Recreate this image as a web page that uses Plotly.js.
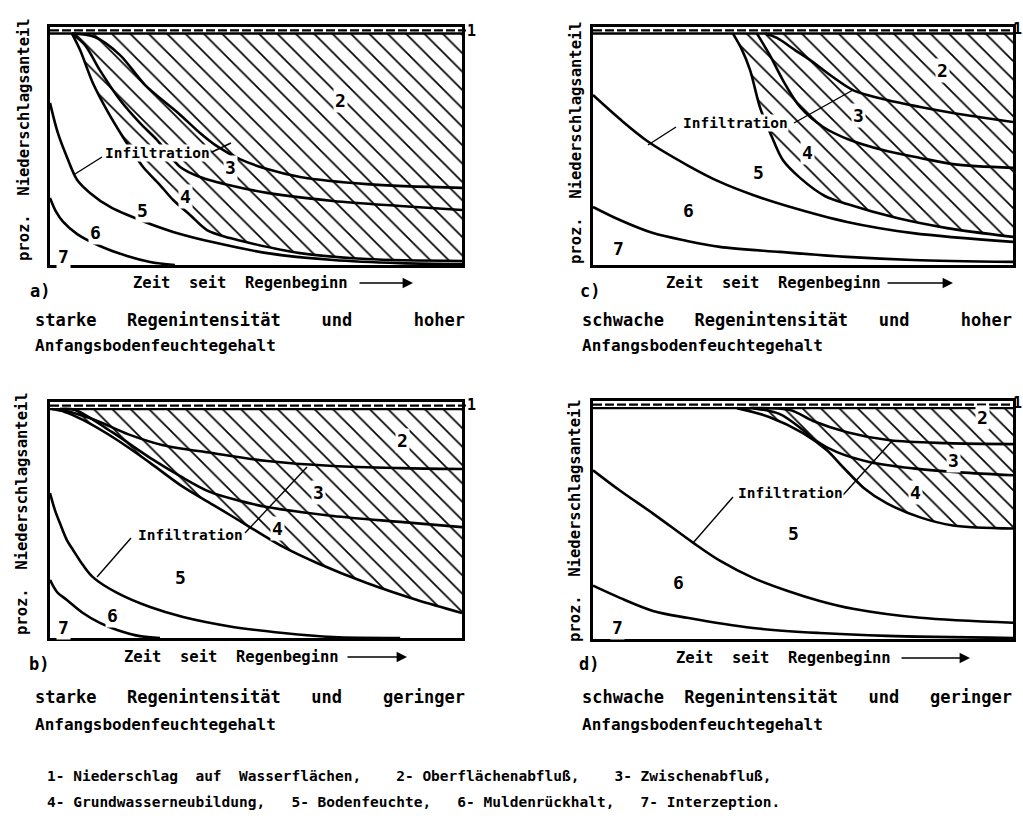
<!DOCTYPE html>
<html>
<head>
<meta charset="utf-8">
<script src="https://cdn.plot.ly/plotly-3.0.1.min.js"></script>
<style>
html,body{margin:0;padding:0;background:#fff;}
#chart{width:1023px;height:826px;}
</style>
</head>
<body>
<div id="chart"></div>
<script>
// ---------------- DATA (x: % of time axis, y: % of precipitation) ----------------
// Panel a) starke Regenintensität, hoher Anfangsbodenfeuchtegehalt
const a_top = 97.3, a_dash = 98.6;
const a76x = [0, 1.5, 3.2, 6.6, 12.1, 18.7, 24.3, 30.3];
const a76y = [28.2, 22.3, 18.1, 13.0, 8.0, 3.8, 1.3, 0];
const a65x = [0, 1.9, 4.1, 6.6, 9.7, 14.6, 21.8, 29.9, 40.5, 52.7, 68.7, 85.0, 100];
const a65y = [68.1, 55.5, 45.4, 35.7, 30.3, 24.4, 18.9, 13.9, 9.2, 5.0, 2.1, 0.8, 0.4];
const a54x = [5.3, 7.3, 10.4, 13.8, 17.7, 20.1, 22.6, 26.7, 29.9, 34.0, 38.1, 43.7, 48.5, 60.7, 76.9, 100];
const a54y = [97.3, 90.3, 76.5, 65.1, 53.8, 47.5, 41.2, 33.6, 27.3, 21.0, 14.7, 11.3, 9.2, 5.0, 2.5, 1.7];
const a43x = [5.3, 8.5, 12.1, 17.0, 21.8, 26.0, 31.6, 36.4, 44.4, 52.7, 68.7, 85.0, 100];
const a43y = [97.3, 92.4, 81.9, 69.3, 59.7, 52.5, 41.2, 37.0, 33.2, 30.3, 26.9, 24.8, 23.1];
const a32x = [5.3, 10.9, 17.0, 23.1, 31.1, 36.4, 40.8, 46.1, 52.7, 60.7, 76.9, 100];
const a32y = [97.3, 95.8, 88.2, 75.6, 63.9, 55.5, 49.6, 44.5, 40.3, 37.0, 34.0, 32.4];

// Panel c) schwache Regenintensität, hoher Anfangsbodenfeuchtegehalt
const c_top = 97.3, c_dash = 98.6;
const c76x = [0, 6.4, 14.3, 22.4, 30.2, 44.5, 60.5, 76.2, 100];
const c76y = [24.4, 18.9, 13.4, 10.1, 7.6, 5.5, 3.4, 2.1, 1.3];
const c65x = [0, 6.4, 12.9, 22.4, 30.2, 38.1, 46.2, 60.5, 76.2, 100];
const c65y = [71.4, 61.3, 52.1, 42.0, 34.9, 29.4, 24.8, 18.1, 13.4, 9.7];
const c54x = [33.3, 35.5, 37.4, 39.8, 42.6, 45.2, 49.3, 55.2, 60.5, 72.4, 84.3, 100];
const c54y = [97.3, 90.3, 81.9, 66.0, 53.8, 44.1, 36.6, 29.0, 25.6, 19.7, 15.5, 11.8];
const c43x = [39.0, 42.1, 45.2, 49.3, 54.8, 61.2, 69.0, 77.9, 85.7, 100];
const c43y = [97.3, 88.2, 77.7, 66.4, 58.0, 52.5, 48.3, 45.0, 42.4, 40.8];
const c32x = [41.0, 43.8, 48.1, 51.7, 57.1, 61.9, 70.0, 77.9, 85.7, 100];
const c32y = [97.3, 95.4, 90.3, 86.1, 79.0, 73.5, 69.3, 66.4, 63.9, 60.1];

// Panel b) starke Regenintensität, geringer Anfangsbodenfeuchtegehalt
const b_top = 97.0, b_dash = 98.5;
const b76x = [0, 1.7, 4.1, 8.0, 12.1, 16.3, 21.8, 26.7];
const b76y = [24.6, 19.5, 16.1, 10.6, 6.4, 3.4, 0.8, 0];
const b65x = [0, 1.2, 2.4, 4.1, 5.6, 8.0, 10.4, 16.3, 24.3, 32.3, 44.4, 56.6, 68.7, 85];
const b65y = [61.4, 54.2, 48.7, 41.5, 37.3, 30.9, 25.8, 19.1, 13.1, 8.9, 4.7, 2.1, 0.4, 0];
const b54x = [0.5, 3.6, 8.0, 16.3, 24.3, 32.3, 40.5, 48.5, 56.6, 64.8, 76.9, 89.1, 100];
const b54y = [97.0, 95.8, 92.4, 83.9, 74.2, 64.0, 55.5, 47.0, 38.6, 31.8, 23.3, 16.1, 10.6];
const b43x = [2.4, 6.1, 15.0, 24.3, 31.6, 38.8, 46.1, 52.7, 68.7, 85.0, 100];
const b43y = [97.0, 96.6, 87.3, 76.3, 68.6, 61.9, 58.1, 55.5, 51.7, 49.2, 47.0];
const b32x = [2.4, 10.9, 18.9, 27.2, 39.3, 52.7, 68.7, 85.0, 100];
const b32y = [97.0, 92.4, 86.4, 81.8, 78.4, 75.0, 72.9, 72.0, 71.6];

// Panel d) schwache Regenintensität, geringer Anfangsbodenfeuchtegehalt
const d_top = 97.0, d_dash = 98.5;
const d76x = [0, 6.4, 14.3, 22.4, 38.1, 54.0, 70.0, 100];
const d76y = [22.4, 17.3, 11.8, 8.9, 4.6, 2.5, 1.3, 0.4];
const d65x = [0, 6.4, 14.3, 23.8, 30.2, 38.1, 46.2, 54.0, 61.9, 77.9, 100];
const d65y = [70.9, 62.4, 52.7, 40.5, 32.9, 25.7, 20.3, 16.0, 12.7, 8.9, 6.8];
const d54x = [34.3, 42.1, 50.0, 55.7, 59.5, 64.3, 70.0, 77.9, 85.7, 100];
const d54y = [97.0, 93.2, 86.5, 79.3, 72.2, 63.7, 57.0, 51.1, 47.7, 46.4];
const d43x = [38.1, 44.5, 50.0, 52.9, 58.1, 66.0, 76.2, 87.4, 100];
const d43y = [97.0, 94.5, 87.8, 83.5, 78.5, 74.3, 71.7, 70.0, 68.8];
const d32x = [37.4, 46.9, 52.4, 60.5, 70.7, 84.3, 100];
const d32y = [97.0, 96.2, 91.6, 86.9, 83.5, 82.3, 81.9];

// ---------------- TEXT ----------------
const NB = '\u00A0';
function sp(n){ return NB.repeat(n); }
const regionLabels = ['1', '2', '3', '4', '5', '6', '7'];
const infiltrationLabel = 'Infiltration';
const yTitle = 'proz.' + sp(2) + 'Niederschlagsanteil';
const xTitle = 'Zeit' + sp(2) + 'seit' + sp(2) + 'Regenbeginn';
const panelLetters = ['a)', 'b)', 'c)', 'd)'];
const capA1 = 'starke' + sp(3) + 'Regenintensität' + sp(4) + 'und' + sp(6) + 'hoher';
const capC1 = 'schwache' + sp(3) + 'Regenintensität' + sp(3) + 'und' + sp(5) + 'hoher';
const capB1 = 'starke' + sp(3) + 'Regenintensität' + sp(3) + 'und' + sp(4) + 'geringer';
const capD1 = 'schwache' + sp(2) + 'Regenintensität' + sp(3) + 'und' + sp(3) + 'geringer';
const cap2 = 'Anfangsbodenfeuchtegehalt';
const legend1 = '1-' + NB + 'Niederschlag' + sp(2) + 'auf' + sp(2) + 'Wasserflächen,' + sp(4) + '2-' + NB + 'Oberflächenabfluß,' + sp(4) + '3-' + NB + 'Zwischenabfluß,';
const legend2 = '4-' + NB + 'Grundwasserneubildung,' + sp(3) + '5-' + NB + 'Bodenfeuchte,' + sp(3) + '6-' + NB + 'Muldenrückhalt,' + sp(3) + '7-' + NB + 'Interzeption.';

// ---------------- BUILD ----------------
const W = 1023, H = 826;
const FONT = 'DejaVu Sans Mono, Liberation Mono, monospace';
const X = v => v / W;
const Y = v => 1 - v / H;

const data = [];
function addPanel(xa, ya, top, dash, c76x, c76y, c65x, c65y, c54x, c54y, c43x, c43y, c32x, c32y) {
  const base = {type: 'scatter', mode: 'lines', xaxis: xa, yaxis: ya, hoverinfo: 'skip', showlegend: false};
  const ln = w => ({color: 'black', width: w, shape: 'spline', smoothing: 0.9});
  data.push(Object.assign({}, base, {x: [c54x[0], 100], y: [top, top], line: {width: 0, color: 'rgba(0,0,0,0)'}}));
  data.push(Object.assign({}, base, {
    x: c54x, y: c54y, line: ln(2.6), fill: 'tonexty', fillcolor: 'white',
    fillpattern: {shape: '\\', size: 13, solidity: 0.13, fgcolor: 'black', bgcolor: 'white', fillmode: 'replace'}
  }));
  data.push(Object.assign({}, base, {x: c76x, y: c76y, line: ln(2.6)}));
  data.push(Object.assign({}, base, {x: c65x, y: c65y, line: ln(2.6)}));
  data.push(Object.assign({}, base, {x: c43x, y: c43y, line: ln(2.6)}));
  data.push(Object.assign({}, base, {x: c32x, y: c32y, line: ln(2.6)}));
  data.push(Object.assign({}, base, {x: [0, 100], y: [top, top], line: {color: 'black', width: 2.4}}));
  data.push(Object.assign({}, base, {x: [0, 100], y: [dash, dash], line: {color: 'black', width: 2.2, dash: '9px,3px'}}));
}
addPanel('x', 'y', a_top, a_dash, a76x, a76y, a65x, a65y, a54x, a54y, a43x, a43y, a32x, a32y);
addPanel('x2', 'y2', c_top, c_dash, c76x, c76y, c65x, c65y, c54x, c54y, c43x, c43y, c32x, c32y);
addPanel('x3', 'y3', b_top, b_dash, b76x, b76y, b65x, b65y, b54x, b54y, b43x, b43y, b32x, b32y);
addPanel('x4', 'y4', d_top, d_dash, d76x, d76y, d65x, d65y, d54x, d54y, d43x, d43y, d32x, d32y);

function ax(dom) {
  return {domain: dom, range: [0, 100], showgrid: false, zeroline: false, showticklabels: false,
          ticks: '', showline: true, mirror: true, linecolor: 'black', linewidth: 2.6, fixedrange: true};
}
const boxes = {
  a: {l: 50, r: 462, t: 27, b: 265},
  c: {l: 593, r: 1013, t: 27, b: 265},
  b: {l: 50, r: 462, t: 402, b: 638},
  d: {l: 593, r: 1013, t: 401, b: 639}
};

const ann = [];
function T(text, x, y, size, o) {
  ann.push(Object.assign({text: text, x: X(x), y: Y(y), xref: 'paper', yref: 'paper', showarrow: false,
    font: {family: FONT, size: size, color: 'black', weight: 700}, xanchor: 'center', yanchor: 'middle'}, o || {}));
}
const WB = {bgcolor: 'white', borderpad: 1};
const lab = {
  a: {n: [[340, 100], [230, 167], [185, 197], [142, 210], [95, 233], [63, 256]], inf: [157, 153], one: [465, 31]},
  c: {n: [[942, 70], [858, 115], [807, 152], [758, 173], [688, 210], [618, 248]], inf: [735, 123], one: [1011, 29]},
  b: {n: [[402, 440], [318, 492], [277, 528], [180, 577], [112, 615], [63, 627]], inf: [190, 535], one: [465, 405]},
  d: {n: [[982, 417], [953, 460], [915, 492], [793, 533], [678, 582], [617, 627]], inf: [790, 493], one: [1011, 403]}
};
Object.keys(lab).forEach(k => {
  const L = lab[k];
  L.n.forEach((p, i) => T(regionLabels[i + 1], p[0], p[1], 18, WB));
  T(infiltrationLabel, L.inf[0], L.inf[1], 14.5, {bgcolor: 'white', borderpad: 0});
  T(regionLabels[0], L.one[0], L.one[1], 15, {xanchor: 'left'});
});
T(yTitle, 24, 140, 15.5, {textangle: -90});
T(yTitle, 576, 143, 15.5, {textangle: -90});
T(yTitle, 22, 514, 15.5, {textangle: -90});
T(yTitle, 575, 521, 15.5, {textangle: -90});
T(xTitle, 240, 283, 15.5);
T(xTitle, 773, 283, 15.5);
T(xTitle, 231, 657, 15.5);
T(xTitle, 783, 658, 15.5);
T(panelLetters[0], 28, 291, 17, {xanchor: 'left'});
T(panelLetters[2], 578, 291, 17, {xanchor: 'left'});
T(panelLetters[1], 27, 664, 17, {xanchor: 'left'});
T(panelLetters[3], 577, 664, 17, {xanchor: 'left'});
T(capA1, 33, 320, 17, {xanchor: 'left'});
T(cap2, 33, 346, 16, {xanchor: 'left'});
T(capC1, 580, 320, 17, {xanchor: 'left'});
T(cap2, 580, 346, 16, {xanchor: 'left'});
T(capB1, 33, 697, 17, {xanchor: 'left'});
T(cap2, 33, 724, 16, {xanchor: 'left'});
T(capD1, 580, 697, 17, {xanchor: 'left'});
T(cap2, 580, 724, 16, {xanchor: 'left'});
T(legend1, 45, 776, 14.5, {xanchor: 'left'});
T(legend2, 45, 802, 14.5, {xanchor: 'left'});
[[358, 413, 283], [886, 953, 283], [346, 407, 657], [900, 970, 658]].forEach(a => {
  ann.push({text: '', x: X(a[1]), y: Y(a[2]), xref: 'paper', yref: 'paper', showarrow: true,
    ax: -(a[1] - a[0]), ay: 0, arrowhead: 2, arrowsize: 1.3, arrowwidth: 1.6, arrowcolor: 'black', standoff: 0});
});

const shapes = [];
function S(x0, y0, x1, y1, w) {
  shapes.push({type: 'line', xref: 'paper', yref: 'paper', x0: X(x0), y0: Y(y0), x1: X(x1), y1: Y(y1),
    line: {color: 'black', width: w || 1.4}});
}
S(102, 157, 75, 174); S(212, 152, 231, 143);
S(676, 127, 648, 145); S(794, 123, 853, 90);
S(131, 538, 97, 577); S(245, 533, 307, 467);
S(733, 497, 693, 543); S(843, 495, 892, 441);
S(462, 30.5, 466, 30.5, 2);
S(462, 405.5, 466, 405.5, 2);

const layout = {
  width: W, height: H, margin: {l: 0, r: 0, t: 0, b: 0},
  paper_bgcolor: 'white', plot_bgcolor: 'white', showlegend: false,
  xaxis: ax([boxes.a.l / W, boxes.a.r / W]), yaxis: ax([1 - boxes.a.b / H, 1 - boxes.a.t / H]),
  xaxis2: ax([boxes.c.l / W, boxes.c.r / W]), yaxis2: ax([1 - boxes.c.b / H, 1 - boxes.c.t / H]),
  xaxis3: ax([boxes.b.l / W, boxes.b.r / W]), yaxis3: ax([1 - boxes.b.b / H, 1 - boxes.b.t / H]),
  xaxis4: ax([boxes.d.l / W, boxes.d.r / W]), yaxis4: ax([1 - boxes.d.b / H, 1 - boxes.d.t / H]),
  annotations: ann, shapes: shapes
};
layout.yaxis.anchor = 'x'; layout.xaxis.anchor = 'y';
layout.yaxis2.anchor = 'x2'; layout.xaxis2.anchor = 'y2';
layout.yaxis3.anchor = 'x3'; layout.xaxis3.anchor = 'y3';
layout.yaxis4.anchor = 'x4'; layout.xaxis4.anchor = 'y4';

Plotly.newPlot('chart', data, layout, {staticPlot: true, displayModeBar: false});
</script>
</body>
</html>
